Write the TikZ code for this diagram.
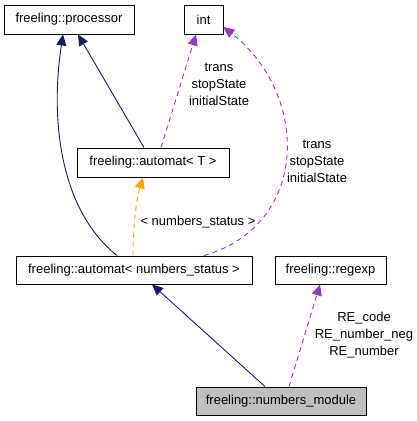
\documentclass[tikz,border=0pt]{standalone}
\usepackage{fontspec}
\setmainfont{Liberation Sans}
\usetikzlibrary{arrows.meta}
\definecolor{navyedge}{HTML}{191970}
\definecolor{purpleedge}{HTML}{9A32CD}
\definecolor{orangeedge}{HTML}{FFA500}
\definecolor{grayfill}{HTML}{BFBFBF}
\tikzset{
  cls/.style={draw=black, line width=0.9pt, fill=white, inner sep=0pt, font=\fontsize{13}{15}\selectfont},
  inh/.style={draw=navyedge, line width=0.9pt, -{Triangle[length=11pt,width=10pt]}},
  use/.style={draw=purpleedge, line width=0.9pt, dash pattern=on 5pt off 4pt, -{Triangle[length=11pt,width=10pt]}},
  tmpl/.style={draw=orangeedge, line width=0.9pt, dash pattern=on 5pt off 4pt, -{Triangle[length=11pt,width=10pt]}},
  lbl/.style={font=\fontsize{13}{17}\selectfont, align=center, inner sep=0pt},
}
\begin{document}
\begin{tikzpicture}[x=1pt,y=-1pt]
\useasboundingbox (0,0) rectangle (417,421);
\node[cls, minimum width=130pt, minimum height=29pt] (proc) at (69,19.5) {freeling::processor};
\node[cls, minimum width=39pt, minimum height=29pt] (int) at (203.5,19.5) {int};
\node[cls, minimum width=152pt, minimum height=29pt] (autT) at (153,162.5) {freeling::automat< T >};
\node[cls, minimum width=236pt, minimum height=28pt] (autN) at (134,270) {freeling::automat< numbers\_status >};
\node[cls, minimum width=111pt, minimum height=28pt] (regexp) at (330.5,270) {freeling::regexp};
\node[cls, fill=grayfill, minimum width=170pt, minimum height=28pt] (mod) at (281,401) {freeling::numbers\_module};
% inheritance
\draw[inh] (autN.north -| 117,0) .. controls (60,210) and (50,120) .. (proc.south -| 63,0);
\draw[inh] (autT.north -| 144,0) -- (proc.south -| 78,0);
\draw[inh] (mod.north -| 265,0) -- (autN.south -| 152,0);
% template
\draw[tmpl] (autN.north -| 133,0) .. controls (133,230) and (136,200) .. (autT.south -| 143,0);
% usage
\draw[use] (autT.north -| 161,0) -- (int.south -| 196,0);
\draw[use] (autN.north -| 204,0) .. controls (310,225) and (310,95) .. (int.east |- 0,27);
\draw[use] (mod.north -| 289,0) -- (regexp.south -| 320,0);
% labels
\node[lbl] (l1) at (219,84) {trans\\stopState\\initialState};
\node[lbl] (l2) at (317,161) {trans\\stopState\\initialState};
\node[lbl] (l3) at (198,222) {< numbers\_status >};
\node[lbl] (l4) at (364,335) {RE\_code\\RE\_number\_neg\\RE\_number};
\end{tikzpicture}
\end{document}
